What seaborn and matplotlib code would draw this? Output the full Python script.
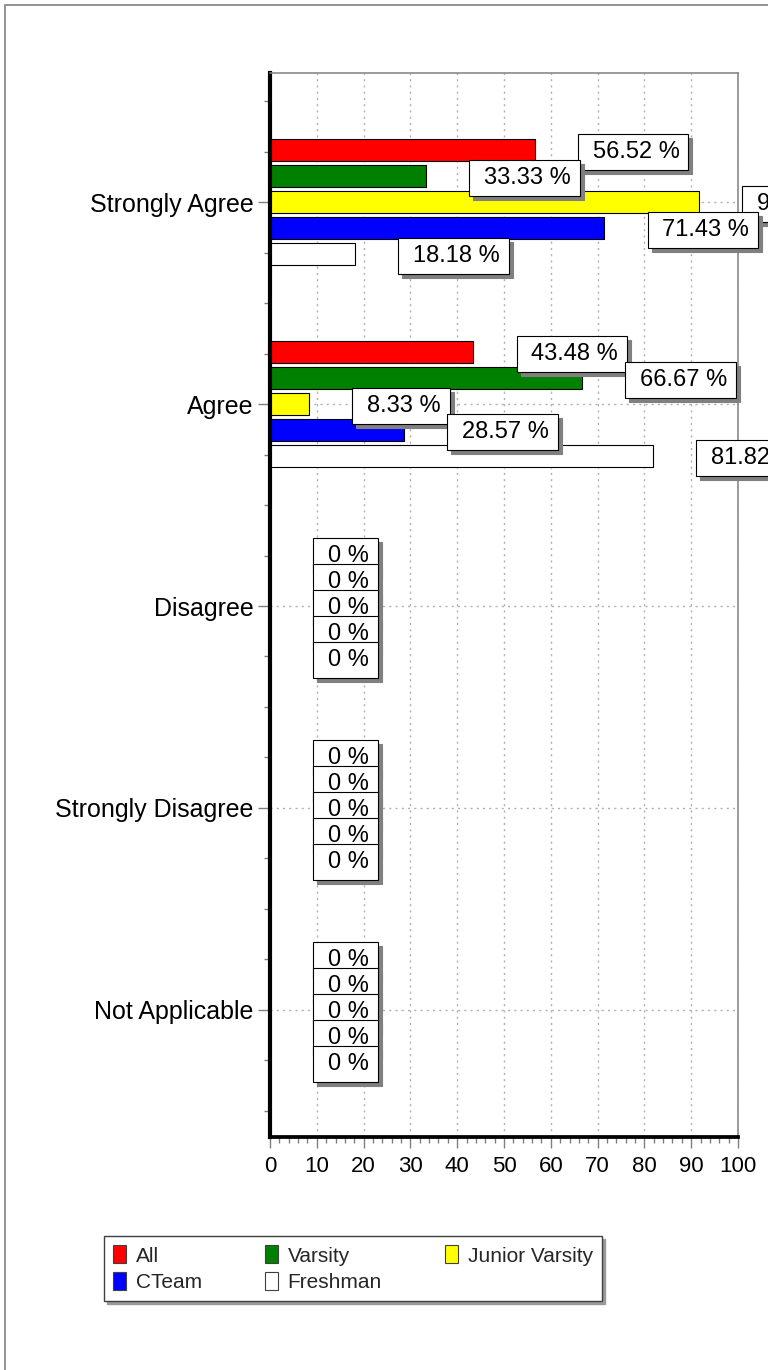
import numpy as np
import pandas as pd
import matplotlib
matplotlib.use("Agg")
import matplotlib.pyplot as plt
import seaborn as sns
from matplotlib.path import Path
from matplotlib.patches import Patch, Rectangle
from matplotlib.ticker import MultipleLocator

# ---- data ----
categories = ["Strongly Agree", "Agree", "Disagree", "Strongly Disagree", "Not Applicable"]
series = ["All", "Varsity", "Junior Varsity", "CTeam", "Freshman"]
all_vals = [56.52, 43.48, 0, 0, 0]
varsity_vals = [33.33, 66.67, 0, 0, 0]
jv_vals = [91.67, 8.33, 0, 0, 0]
cteam_vals = [71.43, 28.57, 0, 0, 0]
freshman_vals = [18.18, 81.82, 0, 0, 0]
colors = ["#ff0000", "#008000", "#ffff00", "#0000ff", "#ffffff"]
x_ticks = list(range(0, 101, 10))

values = [all_vals, varsity_vals, jv_vals, cteam_vals, freshman_vals]
df = pd.DataFrame({
    "Response": categories * len(series),
    "Group": [s for s in series for _ in categories],
    "Percent": [v for vals in values for v in vals],
})

sns.set_theme(style="white")
plt.rcParams["font.family"] = ["Liberation Sans", "DejaVu Sans"]

W, H, DPI = 768, 1370, 100
fig = plt.figure(figsize=(W / DPI, H / DPI), dpi=DPI)
ax = fig.add_axes([270 / W, 1 - 1137 / H, (738 - 270) / W, (1137 - 73) / H])

sns.barplot(data=df, y="Response", x="Percent", hue="Group", order=categories,
            hue_order=series, palette=colors, saturation=1, width=0.645, gap=0.15,
            orient="h", edgecolor="black", linewidth=0.8, legend=False,
            errorbar=None, ax=ax)

ax.set_xlim(0, 100)
ax.set_ylim(4.63, -0.64)
ax.set_xlabel("")
ax.set_ylabel("")

# grid
ax.set_axisbelow(True)
ax.xaxis.grid(True, which="major", linestyle=(0, (1.5, 3)), color="#b0b0b0", lw=1)
ax.yaxis.grid(True, which="major", linestyle=(0, (1.5, 3)), color="#b0b0b0", lw=1)

# ticks
ax.set_xticks(x_ticks)
ax.xaxis.set_minor_locator(MultipleLocator(2))
ax.yaxis.set_minor_locator(MultipleLocator(0.25))
ax.tick_params(axis="x", which="major", bottom=True, direction="out", length=8,
               width=1, color="#808080", labelsize=16, pad=6, labelcolor="black")
ax.tick_params(axis="x", which="minor", bottom=True, direction="out", length=4.5,
               width=1, color="#808080")
ax.tick_params(axis="y", which="major", left=True, direction="out", length=9,
               width=1, color="#808080", labelsize=18, pad=3, labelcolor="black")
ax.tick_params(axis="y", which="minor", left=True, direction="out", length=4.5,
               width=1, color="#808080")

# spines
for s in ["left", "bottom"]:
    ax.spines[s].set_color("black")
ax.spines["left"].set_linewidth(3)
ax.spines["bottom"].set_linewidth(2.7)
for s in ["top", "right"]:
    ax.spines[s].set_color("#808080")
    ax.spines[s].set_linewidth(1.1)
    ax.spines[s].set_visible(True)


# value label boxes (asymmetric padding)
def label_box(x0, y0, width, height, mutation_size):
    lpad = 0.62 * mutation_size
    rpad = 0.38 * mutation_size
    vpad = 0.29 * mutation_size
    xa, xb = x0 - lpad, x0 + width + rpad
    ya, yb = y0 - vpad, y0 + height + vpad
    return Path([(xa, ya), (xb, ya), (xb, yb), (xa, yb), (xa, ya)],
                [Path.MOVETO, Path.LINETO, Path.LINETO, Path.LINETO, Path.CLOSEPOLY])


bars = []
for cont in ax.containers:
    for rect in cont:
        bars.append(rect)
bars.sort(key=lambda r: r.get_y() + r.get_height() / 2)

z = 5
for rect in bars:
    w = rect.get_width()
    yc = rect.get_y() + rect.get_height() / 2
    txt = f"{w:g} %"
    ax.annotate(txt, xy=(w, yc), xycoords="data", xytext=(62, -6),
                textcoords="offset pixels", ha="left", va="center", fontsize=17,
                color="none", annotation_clip=False, zorder=z,
                bbox=dict(boxstyle=label_box, facecolor="#808080",
                          edgecolor="#808080", linewidth=0.8))
    ax.annotate(txt, xy=(w, yc), xycoords="data", xytext=(58, -2),
                textcoords="offset pixels", ha="left", va="center", fontsize=17,
                color="black", annotation_clip=False, zorder=z + 1,
                bbox=dict(boxstyle=label_box, facecolor="white",
                          edgecolor="black", linewidth=0.8))
    z += 2

# legend
handles = [Patch(facecolor=c, edgecolor="#404040", lw=0.8) for c in colors]
order = [0, 3, 1, 4, 2]
leg = fig.legend([handles[i] for i in order], [series[i] for i in order], ncol=3,
                 loc="upper left", bbox_to_anchor=(104 / W, 1 - 1302 / H, 498 / W, 66 / H),
                 mode="expand", fontsize=15, frameon=True, fancybox=False,
                 edgecolor="#404040", framealpha=1,
                 shadow={"color": "#9a9a9a", "alpha": 1},
                 borderpad=0.45, handlelength=0.62, handleheight=0.95,
                 handletextpad=0.45, labelspacing=0.3, borderaxespad=0)
leg.get_frame().set_linewidth(1)

# outer figure border (extends past right/bottom edge)
fig.add_artist(Rectangle((5 / W, -0.05), 1.1, 1 - 5 / H + 0.05,
                         transform=fig.transFigure, fill=False,
                         edgecolor="#808080", lw=1.2))

fig.savefig("out.png", dpi=DPI)
